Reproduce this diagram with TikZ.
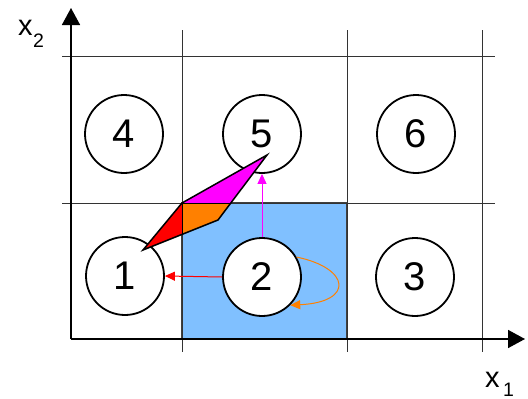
\documentclass[tikz,border=0pt]{standalone}
\usepackage{fontspec}
\setmainfont{Liberation Sans}
\usetikzlibrary{arrows.meta}
\definecolor{cellblue}{HTML}{80C0FF}
\definecolor{borderdark}{HTML}{404040}
\definecolor{myorange}{HTML}{FF8000}
\definecolor{mymagenta}{HTML}{FF00FF}
\begin{document}
\begin{tikzpicture}[x=1pt,y=-1pt,
  state/.style={circle, draw=black, line width=1.8pt, fill=white, minimum size=78pt, inner sep=0pt, font=\fontsize{40}{44}\selectfont},
  gridline/.style={line width=1pt, draw=black!80},
  axisline/.style={line width=1.6pt, draw=black, -{Triangle[length=17pt,width=18pt]}},
  lbl/.style={inner sep=0pt, anchor=base west},
  trans/.style={line width=1pt, -{Triangle[length=10pt,width=9pt]}}
]
\useasboundingbox (0,0) rectangle (528,399);

% highlighted cell
\draw[fill=cellblue, draw=borderdark, line width=1.5pt] (182,203) rectangle (347,339);

% grid lines
\draw[gridline] (182,30) -- (182,352);
\draw[gridline] (347,30) -- (347,352);
\draw[gridline] (482,30) -- (482,352);
\draw[gridline] (62,56) -- (495,56);
\draw[gridline] (62,203) -- (495,203);

% axes
\coordinate (o) at (71,339);
\coordinate (ytip) at (71,8);
\coordinate (xtip) at (525,339);
\draw[axisline] (o) -- (ytip);
\draw[axisline] (o) -- (xtip);

% axis labels
\node[lbl, font=\fontsize{29}{32}\selectfont] (x2) at (18,35) {x};
\node[lbl, font=\fontsize{19.5}{22}\selectfont] (x2s) at (33,47) {2};
\node[lbl, font=\fontsize{29}{32}\selectfont] (x1) at (485,387) {x};
\node[lbl, font=\fontsize{19.5}{22}\selectfont] (x1s) at (503,396) {1};

% states
\node[state] (n1) at (125,276) {1};
\node[state] (n2) at (262,277) {2};
\node[state] (n3) at (415,277) {3};
\node[state] (n4) at (124,134) {4};
\node[state] (n5) at (262,134) {5};
\node[state] (n6) at (416,134) {6};

% parallelogram
\coordinate (pa) at (143,250);
\coordinate (pb) at (182,203);
\coordinate (pc) at (267,155);
\coordinate (pd) at (218,220);
\begin{scope}
  \clip (0,0) rectangle (182,399);
  \fill[red] (pa) -- (pb) -- (pc) -- (pd) -- cycle;
\end{scope}
\begin{scope}
  \clip (182,203) rectangle (528,399);
  \fill[myorange] (pa) -- (pb) -- (pc) -- (pd) -- cycle;
\end{scope}
\begin{scope}
  \clip (0,0) rectangle (528,203);
  \fill[mymagenta] (pa) -- (pb) -- (pc) -- (pd) -- cycle;
\end{scope}
\draw[line width=1pt] (pb) -- (182,234.4);
\draw[line width=1pt] (pb) -- (230.8,203);
\draw[line width=1.5pt, line join=miter] (pa) -- (pb) -- (pc) -- (pd) -- cycle;

% transitions
\draw[trans, red] (n2.west) -- (n1.east);
\draw[trans, mymagenta] (n2.north) -- (n5.south);
\draw[trans, myorange] (n2.30) .. controls (350,268) and (355,302) .. (n2.-45);
\end{tikzpicture}
\end{document}
